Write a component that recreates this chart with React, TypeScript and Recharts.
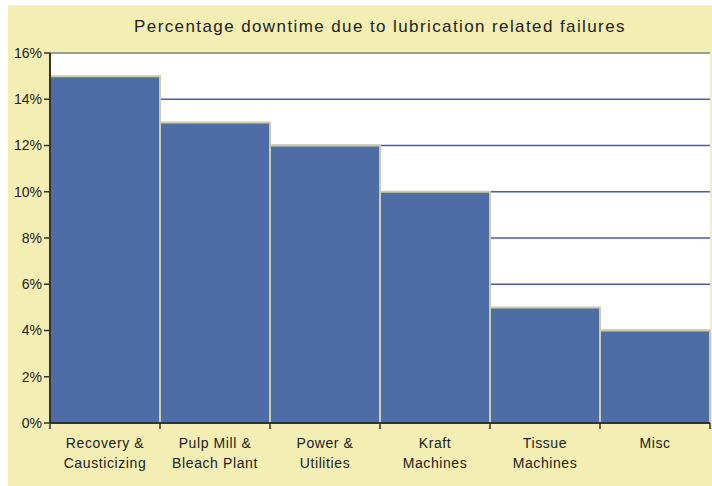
import React from 'react';
import { BarChart, Bar, XAxis, YAxis, CartesianGrid, ReferenceLine } from 'recharts';

const categories = [
  ['Recovery &', 'Causticizing'],
  ['Pulp Mill &', 'Bleach Plant'],
  ['Power &', 'Utilities'],
  ['Kraft', 'Machines'],
  ['Tissue', 'Machines'],
  ['Misc'],
];
const downtime = [15, 13, 12, 10, 5, 4];
const yTicks = [0, 2, 4, 6, 8, 10, 12, 14, 16];

const data = categories.map((lines, i) => ({ name: lines.join(' '), lines, value: downtime[i] }));

const FONT = "'Liberation Sans', Arial, sans-serif";
const BAND = (702 - 42) / categories.length;

const CategoryTick = (props: any) => {
  const { x, y, payload, index } = props;
  const idx = payload.index ?? index;
  const item = data[idx];
  const lines = item ? item.lines : [payload.value];
  return (
    <g>
      <line x1={x - BAND / 2} x2={x - BAND / 2} y1={y - 8} y2={y - 2} stroke="#333" strokeWidth={1.5} />
      {idx === categories.length - 1 && (
        <line x1={x + BAND / 2} x2={x + BAND / 2} y1={y - 8} y2={y - 2} stroke="#333" strokeWidth={1.5} />
      )}
      {lines.map((l: string, i: number) => (
        <text
          key={i}
          x={x}
          y={y + 17 + i * 20}
          textAnchor="middle"
          fontSize={14}
          letterSpacing={0.6}
          fill="#222"
          fontFamily={FONT}
        >
          {l}
        </text>
      ))}
    </g>
  );
};

export default function App() {
  return (
    <div style={{ position: 'absolute', left: 8, top: 5, width: 704, height: 481, background: '#F2EEB4' }}>
      <div
        style={{
          position: 'absolute',
          top: 12,
          left: 42,
          width: 660,
          textAlign: 'center',
          fontFamily: FONT,
          fontSize: 17,
          letterSpacing: 1.4,
          color: '#222',
        }}
      >
        Percentage downtime due to lubrication related failures
      </div>
      <BarChart
        width={704}
        height={481}
        data={data}
        margin={{ top: 48, right: 2, bottom: 0, left: 0 }}
        barCategoryGap={0}
      >
        <CartesianGrid vertical={false} fill="#FFFFFF" stroke="#4A5AB0" strokeWidth={1.5} />
        <ReferenceLine y={16} stroke="#9A9E9A" strokeWidth={2} />
        <XAxis
          dataKey="name"
          interval={0}
          tickLine={false}
          axisLine={{ stroke: '#333', strokeWidth: 2 }}
          tick={<CategoryTick />}
          height={63}
        />
        <YAxis
          width={42}
          domain={[0, 16]}
          ticks={yTicks}
          interval={0}
          tickFormatter={(v) => `${v}%`}
          tick={{ fontSize: 14, fill: '#222', fontFamily: FONT }}
          tickLine={{ stroke: '#333', strokeWidth: 1.5 }}
          tickSize={6}
          axisLine={{ stroke: '#333', strokeWidth: 2 }}
        />
        <Bar dataKey="value" fill="#4E6DA6" stroke="#CBCDAA" strokeWidth={2} isAnimationActive={false} />
      </BarChart>
    </div>
  );
}
